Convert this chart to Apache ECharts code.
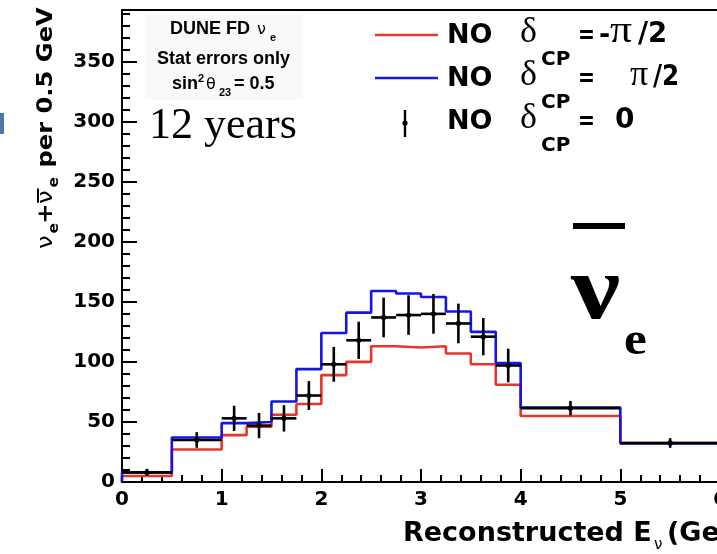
<!DOCTYPE html>
<html><head><meta charset="utf-8">
<script src="https://cdn.jsdelivr.net/npm/echarts@6/dist/echarts.min.js"></script>
<style>html,body{margin:0;padding:0;background:#fff}#c{width:717px;height:554px}</style>
</head><body><div id="c"></div>
<script>
// ---- data ----
const binEdges = [0, 0.5, 1.0, 1.25, 1.5, 1.75, 2.0, 2.25, 2.5, 2.75, 3.0, 3.25, 3.5, 3.75, 4.0, 5.0, 6.0];
const redMinusHalfPi = [5, 27, 39, 46, 56, 65, 89, 100, 113, 112, 113, 107, 98, 81, 55, 32.5];
const bluePlusHalfPi = [8, 37, 49, 50, 67, 94, 124, 141, 159, 157, 154, 142, 125, 99, 62, 32];
const blackZero      = [8, 35, 53, 47, 53, 72, 98, 118, 137, 139, 140, 132, 121, 97, 61.5, 32.5];
const blackErr       = [3, 6.5, 10.5, 10.5, 11, 12, 14.5, 15.5, 16.5, 16.5, 16.5, 16.5, 15.5, 14, 6, 4];
const xTickValues = [0, 1, 2, 3, 4, 5, 6];
const yMajorTicks = [0, 50, 100, 150, 200, 250, 300, 350];
const yMinorTicks = [10, 20, 30, 40, 60, 70, 80, 90, 110, 120, 130, 140, 160, 170, 180, 190, 210, 220, 230, 240,
                     260, 270, 280, 290, 310, 320, 330, 340, 360, 370, 380, 390];
const legendNames = ['NO  δCP = -π/2', 'NO  δCP =  π/2', 'NO  δCP = 0'];

// ---- build step data ----
function stepData(vals) {
  const d = [[binEdges[0], 0]];
  for (let i = 0; i < vals.length; i++) d.push([binEdges[i], vals[i]]);
  d.push([binEdges[binEdges.length - 1], vals[vals.length - 1]]);
  return d;
}
const errData = blackZero.map((v, i) => [binEdges[i], binEdges[i + 1], (binEdges[i] + binEdges[i + 1]) / 2, v, blackErr[i]]);

const SANS = 'DejaVu Sans';
const SERIF = 'Liberation Serif';
function T(x, base, text, size, o) {
  o = o || {};
  const el = {
    type: 'text', z: 100, silent: true,
    style: {
      x: 0, y: -0.35 * size, text: text,
      font: (o.weight || 'bold') + ' ' + size + 'px "' + (o.family || SANS) + '"',
      fill: '#000', align: o.align || 'left', verticalAlign: 'middle'
    },
    x: x, y: base
  };
  if (o.sx) el.scaleX = o.sx;
  if (o.sy) el.scaleY = o.sy;
  return el;
}
function L(x1, y1, x2, y2, color, w) {
  return { type: 'line', z: 100, silent: true, shape: { x1, y1, x2, y2 }, style: { stroke: color, lineWidth: w || 2.6 } };
}
function R(x, y, w, h, fill, z) {
  return { type: 'rect', z: z == null ? 100 : z, silent: true, shape: { x, y, width: w, height: h }, style: { fill: fill } };
}

const RED = '#e8352b', BLUE = '#1515e6';

// legend rows
const rows = [35, 78, 122];
const bases = [45, 88, 131];
const legendEls = [];
legendEls.push(L(375, rows[0], 438, rows[0], RED));
legendEls.push(L(375, rows[1], 438, rows[1], BLUE));
legendEls.push(L(405, 110, 405, 137, '#000', 2.4));
legendEls.push({ type: 'circle', z: 100, silent: true, shape: { cx: 405, cy: 123, r: 2.6 }, style: { fill: '#000' } });
bases.forEach((b) => {
  legendEls.push(T(447, b, 'NO', 27));
  legendEls.push(T(520, b, 'δ', 36, { weight: 'normal', family: SERIF }));
  legendEls.push(T(541, b + 22, 'CP', 20));
  legendEls.push(T(578, b, '=', 27, { sx: 0.75 }));
});
legendEls.push(T(599, bases[0], '-', 27));
legendEls.push(T(610, bases[0], 'π', 38, { weight: 'normal', family: SERIF, sx: 1.15 }));
legendEls.push(T(638, bases[0], '/2', 29, { sx: 0.95 }));
legendEls.push(T(630, bases[1], 'π', 36, { weight: 'normal', family: SERIF }));
legendEls.push(T(653, bases[1], '/2', 29, { sx: 0.85 }));
legendEls.push(T(615, bases[2], '0', 28));

// y title (rotated)
const yTitle = {
  type: 'group', x: 54, y: 249, rotation: Math.PI / 2, scaleX: 1.1, z: 100, silent: true,
  children: [
    T(0, 0, 'ν', 22, { weight: 'normal' }),
    T(14, 5, 'e', 14),
    T(23, 0, '+', 22),
    T(41, 0, 'ν', 22, { weight: 'normal' }),
    R(42, -17, 13, 2, '#000'),
    T(56, 5, 'e', 14),
    T(74, 0, 'per 0.5 GeV', 22)
  ]
};

const graphics = [
  R(0, 113, 4, 21, '#4a78a8'),
  R(145, 15, 158, 85, '#f9f9f9', 1),
  T(170, 35, 'DUNE FD', 18, { family: 'Liberation Sans' }),
  T(257, 35, 'ν', 16, { weight: 'normal' }),
  T(270, 42, 'e', 11, { family: 'Liberation Sans' }),
  T(157, 65, 'Stat errors only', 18, { family: 'Liberation Sans' }),
  T(172, 90, 'sin', 18, { family: 'Liberation Sans' }),
  T(198, 83, '2', 11, { family: 'Liberation Sans' }),
  T(206, 90, 'θ', 16, { weight: 'normal' }),
  T(219, 97, '23', 11, { family: 'Liberation Sans' }),
  T(234, 90, '= 0.5', 18, { family: 'Liberation Sans' }),
  T(149, 142, '12 years', 44, { weight: 'normal', family: SERIF }),
  R(573, 223, 52, 6, '#000'),
  T(571, 326, 'ν', 92, { family: SERIF, sx: 1.2 }),
  T(624, 358, 'e', 46, { family: SERIF, sx: 1.12 }),
  T(403, 543, 'Reconstructed E', 27),
  T(654, 550, 'ν', 15, { weight: 'normal' }),
  T(667, 543, '(GeV)', 27),
  yTitle
].concat(legendEls);

const chart = echarts.init(document.getElementById('c'), null, { renderer: 'canvas' });
chart.setOption({
  animation: false,
  backgroundColor: '#fff',
  grid: { left: 122, top: 10, width: 598, height: 472, outerBoundsMode: 'none', containLabel: false,
    show: true, borderColor: '#000', borderWidth: 2, backgroundColor: 'transparent' },
  xAxis: {
    type: 'value', min: 0, max: 6, interval: 1,
    axisLine: { show: true, onZero: false, lineStyle: { color: '#000', width: 2 } },
    axisTick: { show: true, inside: true, length: 13, lineStyle: { color: '#000', width: 2 } },
    minorTick: { show: true, splitNumber: 5, length: 7, lineStyle: { color: '#000', width: 2 } },
    axisLabel: { show: true, margin: 8, color: '#000', fontFamily: SANS, fontWeight: 'bold', fontSize: 20,
      customValues: xTickValues },
    splitLine: { show: false }, minorSplitLine: { show: false }
  },
  yAxis: [{
    type: 'value', min: 0, max: 393,
    axisLine: { show: true, onZero: false, lineStyle: { color: '#000', width: 2 } },
    axisTick: { show: true, inside: true, length: 15, lineStyle: { color: '#000', width: 2 }, customValues: yMajorTicks },
    axisLabel: { show: true, margin: 7, color: '#000', fontFamily: SANS, fontWeight: 'bold', fontSize: 20, customValues: yMajorTicks },
    splitLine: { show: false }
  }, {
    type: 'value', min: 0, max: 393, position: 'left',
    axisLine: { show: false },
    axisTick: { show: true, inside: true, length: 8, lineStyle: { color: '#000', width: 2 }, customValues: yMinorTicks },
    axisLabel: { show: false },
    splitLine: { show: false }
  }],
  series: [
    { name: legendNames[0], type: 'line', step: 'end', data: stepData(redMinusHalfPi), symbol: 'none',
      lineStyle: { color: RED, width: 2.6 }, z: 2 },
    { name: legendNames[1], type: 'line', step: 'end', data: stepData(bluePlusHalfPi), symbol: 'none',
      lineStyle: { color: BLUE, width: 2.6 }, z: 3 },
    { name: legendNames[2], type: 'custom', data: errData, z: 4,
      encode: { x: [0, 1, 2], y: [3] },
      renderItem: function (params, api) {
        const y = api.value(3), e = api.value(4);
        const lo = api.coord([api.value(0), y]);
        const hi = api.coord([api.value(1), y]);
        const c = api.coord([api.value(2), y]);
        const t = api.coord([api.value(2), y + e]);
        const b = api.coord([api.value(2), y - e]);
        return { type: 'group', children: [
          { type: 'line', shape: { x1: lo[0], y1: lo[1], x2: hi[0], y2: hi[1] }, style: { stroke: '#000', lineWidth: 2.6 } },
          { type: 'line', shape: { x1: t[0], y1: t[1], x2: b[0], y2: b[1] }, style: { stroke: '#000', lineWidth: 2.6 } },
          { type: 'circle', shape: { cx: c[0], cy: c[1], r: 2.6 }, style: { fill: '#000' } }
        ] };
      }
    }
  ],
  graphic: graphics
});
</script>
</body></html>
